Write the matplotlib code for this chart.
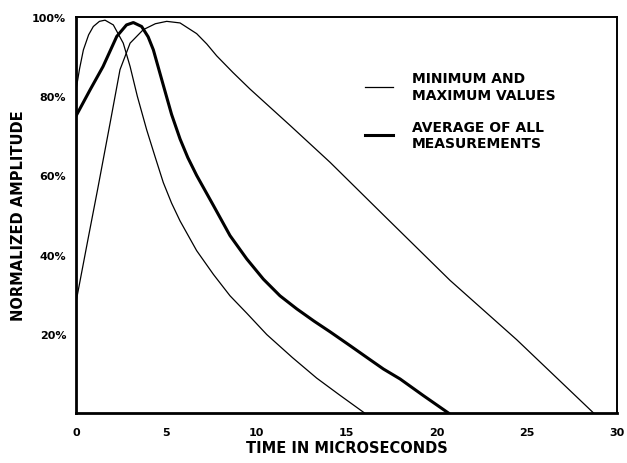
import matplotlib
matplotlib.use("Agg")
import matplotlib.pyplot as plt

# readings (time in microseconds, amplitude in %)
min_t = [0, 0.2, 0.41, 0.7, 0.96, 1.3, 1.61, 2.07, 2.62, 3.0, 3.4, 3.92, 4.4, 4.84, 5.3, 5.77, 6.69, 7.62, 8.54, 9.47, 10.58, 12.0, 13.35, 14.6, 16.0]
min_a = [81.6, 87, 91.7, 95.5, 97.6, 98.9, 99.2, 98, 93.4, 87.5, 80, 71.5, 64.5, 58.2, 53, 48.5, 41, 35, 29.6, 25.2, 19.8, 14, 8.8, 4.6, 0]

avg_t = [0, 0.78, 1.5, 2.26, 2.8, 3.18, 3.64, 4.0, 4.29, 4.84, 5.3, 5.77, 6.2, 6.69, 7.62, 8.54, 9.47, 10.39, 11.31, 12.24, 13.2, 14.09, 15.2, 16.2, 17.05, 17.97, 19.26, 20.65]
avg_a = [75, 81.6, 87.5, 95.1, 98, 98.6, 97.6, 95, 91.7, 82.8, 75.4, 69.2, 64.5, 60, 52.4, 44.8, 38.9, 33.8, 29.6, 26.3, 23.2, 20.5, 17, 13.8, 11.1, 8.6, 4.4, 0]

max_t = [0, 0.67, 1.2, 1.89, 2.44, 3.0, 3.73, 4.4, 5.03, 5.77, 6.69, 7.25, 7.8, 8.7, 9.65, 11.9, 14.09, 17.05, 20.74, 24.44, 28.7]
max_a = [28, 44, 56.5, 73.2, 86.7, 93.4, 96.8, 98.3, 98.9, 98.5, 95.8, 93.2, 90.2, 86, 81.8, 72.5, 63.3, 50, 33.5, 18.5, 0]

x_ticks = [0, 5, 10, 15, 20, 25, 30]
y_ticks = [20, 40, 60, 80, 100]
y_labels = ["20%", "40%", "60%", "80%", "100%"]

fig = plt.figure(figsize=(6.27, 4.64), dpi=100)
ax = fig.add_axes([76 / 627, 1 - 414 / 464, 541 / 627, 396 / 464])

ax.plot(min_t, min_a, color="black", lw=0.9, label="MINIMUM AND\nMAXIMUM VALUES")
ax.plot(avg_t, avg_a, color="black", lw=2.2, label="AVERAGE OF ALL\nMEASUREMENTS")
ax.plot(max_t, max_a, color="black", lw=0.9)

ax.set_xlim(0, 30)
ax.set_ylim(0, 100)
ax.set_xticks(x_ticks)
ax.set_yticks(y_ticks)
ax.set_yticklabels(y_labels)
ax.tick_params(length=0, labelsize=8)
ax.tick_params(axis="x", pad=10)
ax.tick_params(axis="y", pad=7)
for lab in ax.get_xticklabels() + ax.get_yticklabels():
    lab.set_fontweight("bold")

for side in ["top", "right"]:
    ax.spines[side].set_linewidth(1.4)
for side in ["left", "bottom"]:
    ax.spines[side].set_linewidth(2.0)

ax.set_xlabel("TIME IN MICROSECONDS", fontsize=10.5, fontweight="bold", labelpad=2)
ax.set_ylabel("NORMALIZED AMPLITUDE", fontsize=10.5, fontweight="bold", labelpad=4.5)

leg = ax.legend(loc="upper left", bbox_to_anchor=(0.521, 0.88), frameon=False,
                handlelength=2.0, handletextpad=1.4, labelspacing=1.3,
                borderpad=0, prop={"weight": "bold", "size": 10})

fig.savefig("out.png", dpi=100)
